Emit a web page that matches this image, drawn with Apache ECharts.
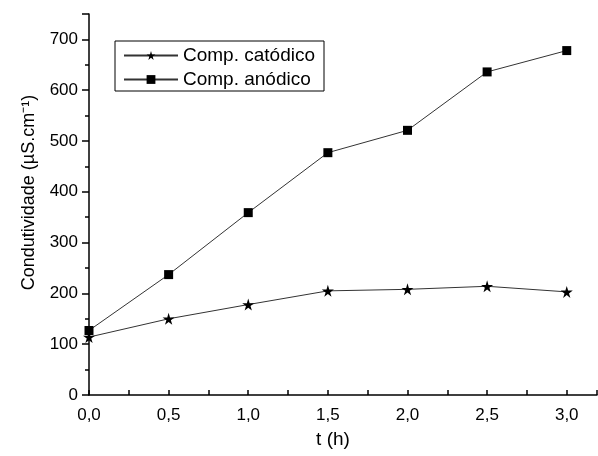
<!DOCTYPE html>
<html>
<head>
<meta charset="utf-8">
<script src="https://cdn.jsdelivr.net/npm/echarts@6/dist/echarts.min.js"></script>
<style>
  html, body { margin: 0; padding: 0; background: #fff; }
  #chart { width: 598px; height: 456px; }
</style>
</head>
<body>
<div id="chart"></div>
<script>
// time in hours
const times = [0, 0.5, 1.0, 1.5, 2.0, 2.5, 3.0];
const catodico = [114, 150, 178, 205, 208, 214, 203];
const anodico = [127, 237, 359, 477, 521, 636, 678];
const seriesNames = ['Comp. catódico', 'Comp. anódico'];

const starPath = 'path://M50,0 L61,35 L98,35 L68,57 L79,91 L50,70 L21,91 L32,57 L2,35 L39,35 Z';
const font = 'Arial, "Liberation Sans", sans-serif';

const myChart = echarts.init(document.getElementById('chart'));
myChart.setOption({
    animation: false,
    textStyle: { fontFamily: font, color: '#000' },
    grid: { left: 89, right: 1, top: 14, bottom: 61 },
    legend: {
        orient: 'vertical',
        left: 115,
        top: 41,
        padding: [5, 9, 2, 8],
        borderColor: '#000',
        borderWidth: 1,
        itemGap: 5,
        itemWidth: 54,
        itemHeight: 11,
        textStyle: { fontSize: 19, color: '#000', fontFamily: font },
        data: seriesNames
    },
    xAxis: {
        type: 'value',
        min: 0,
        max: 3.19,
        interval: 0.5,
        name: 't (h)',
        nameLocation: 'middle',
        nameGap: 35,
        nameTextStyle: { fontSize: 19, color: '#000', padding: [0, 20, 0, 0] },
        axisLine: { lineStyle: { color: '#000', width: 1.5 } },
        axisTick: { inside: true, length: 5, lineStyle: { color: '#000', width: 1.5 } },
        minorTick: { show: true, splitNumber: 2, length: 5, lineStyle: { color: '#000', width: 1.5 } },
        splitLine: { show: false },
        axisLabel: {
            fontSize: 17, color: '#000', margin: 12, showMaxLabel: false,
            formatter: v => v.toFixed(1).replace('.', ',')
        }
    },
    yAxis: {
        type: 'value',
        min: 0,
        max: 750,
        interval: 100,
        name: 'Condutividade (µS.cm⁻¹)',
        nameLocation: 'middle',
        nameGap: 51,
        nameTextStyle: { fontSize: 18, color: '#000', padding: [0, 0, 0, 24] },
        axisLine: { show: true, lineStyle: { color: '#000', width: 1.5 } },
        axisTick: { show: true, length: 7, lineStyle: { color: '#000', width: 1.5 } },
        minorTick: { show: true, splitNumber: 2, length: 4, lineStyle: { color: '#000', width: 1.5 } },
        splitLine: { show: false },
        axisLabel: { fontSize: 17, color: '#000', margin: 11, showMaxLabel: false }
    },
    series: [
        {
            name: seriesNames[0],
            type: 'line',
            data: times.map((t, i) => [t, catodico[i]]),
            symbol: starPath,
            symbolSize: 12,
            itemStyle: { color: '#000' },
            lineStyle: { color: '#333', width: 1 }
        },
        {
            name: seriesNames[1],
            type: 'line',
            data: times.map((t, i) => [t, anodico[i]]),
            symbol: 'rect',
            symbolSize: 9,
            itemStyle: { color: '#000' },
            lineStyle: { color: '#333', width: 1 }
        }
    ]
});
</script>
</body>
</html>
